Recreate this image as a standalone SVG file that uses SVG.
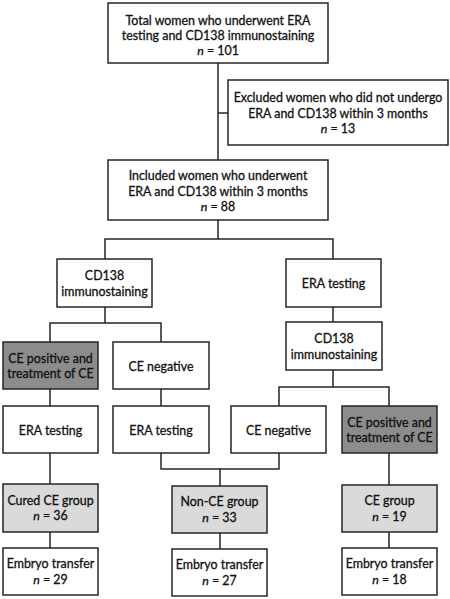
<svg xmlns="http://www.w3.org/2000/svg" width="450" height="599" viewBox="0 0 450 599">
<style>
rect{fill:#fff;stroke:#262626;stroke-width:1.5}
rect.dk{fill:#8c8c8c}
rect.lt{fill:#dadada}
text{font-family:Lato,"Open Sans","Liberation Sans",sans-serif;font-size:12.4px;fill:#111;stroke:#111;stroke-width:0.3;text-anchor:middle}
.i{font-style:italic}
#connectors path{fill:none;stroke:#262626;stroke-width:1.5}
</style>
<rect x="0" y="0" width="450" height="599" style="fill:#fff;stroke:none"/>
<g id="connectors">
<path d="M218 63V160M218 113H228"/>
<path d="M218 220V239M105 259V239H333V259"/>
<path d="M105 307V323M50 342V323H161V342"/>
<path d="M333 307V322"/>
<path d="M333 370V387M279 406V387H389V406"/>
<path d="M50 389V406M161 389V406"/>
<path d="M50 453V484"/>
<path d="M161 453V469H279V453M220 469V486"/>
<path d="M389 453V485"/>
<path d="M50 532V548M220 533V549M389 532V548"/>
</g>
<g id="n-total"><rect x="108" y="3" width="220" height="60"/>
<text x="218" y="24.5">Total women who underwent ERA</text><text x="218" y="39.5">testing and CD138 immunostaining</text><text x="218" y="54.5"><tspan class="i">n</tspan> = 101</text></g>
<g id="n-excluded"><rect x="228" y="80" width="220" height="65"/>
<text x="338" y="102">Excluded women who did not undergo</text><text x="338" y="117.5">ERA and CD138 within 3 months</text><text x="338" y="133"><tspan class="i">n</tspan> = 13</text></g>
<g id="n-included"><rect x="108" y="160" width="220" height="60"/>
<text x="218" y="180">Included women who underwent</text><text x="218" y="195.5">ERA and CD138 within 3 months</text><text x="218" y="211"><tspan class="i">n</tspan> = 88</text></g>
<g id="n-cd138-left"><rect x="57" y="259" width="95" height="48"/>
<text x="104.5" y="280">CD138</text><text x="104.5" y="295.5">immunostaining</text></g>
<g id="n-era-right"><rect x="286" y="259" width="95" height="48"/>
<text x="333.5" y="288">ERA testing</text></g>
<g id="n-cd138-right"><rect x="286" y="322" width="96" height="48"/>
<text x="334" y="343">CD138</text><text x="334" y="358.5">immunostaining</text></g>
<g id="n-cepos-left"><rect class="dk" x="3" y="342" width="95" height="47"/>
<text x="50.5" y="362.5">CE positive and</text><text x="50.5" y="378">treatment of CE</text></g>
<g id="n-ceneg-left"><rect x="113" y="342" width="96" height="47"/>
<text x="161" y="370.5">CE negative</text></g>
<g id="n-era-left"><rect x="3" y="406" width="95" height="47"/>
<text x="50.5" y="434.5">ERA testing</text></g>
<g id="n-era-mid"><rect x="113" y="406" width="96" height="47"/>
<text x="161" y="434.5">ERA testing</text></g>
<g id="n-ceneg-right"><rect x="231" y="406" width="95" height="47"/>
<text x="278.5" y="434.5">CE negative</text></g>
<g id="n-cepos-right"><rect class="dk" x="342" y="406" width="95" height="47"/>
<text x="389.5" y="426.5">CE positive and</text><text x="389.5" y="442">treatment of CE</text></g>
<g id="n-cured"><rect class="lt" x="3" y="484" width="95" height="48"/>
<text x="50.5" y="504.5">Cured CE group</text><text x="50.5" y="520"><tspan class="i">n</tspan> = 36</text></g>
<g id="n-nonce"><rect class="lt" x="172" y="486" width="95" height="47"/>
<text x="219.5" y="506">Non-CE group</text><text x="219.5" y="521.5"><tspan class="i">n</tspan> = 33</text></g>
<g id="n-ce"><rect class="lt" x="342" y="485" width="95" height="47"/>
<text x="389.5" y="505">CE group</text><text x="389.5" y="520.5"><tspan class="i">n</tspan> = 19</text></g>
<g id="n-et-left"><rect x="3" y="548" width="95" height="47"/>
<text x="50.5" y="568">Embryo transfer</text><text x="50.5" y="583.5"><tspan class="i">n</tspan> = 29</text></g>
<g id="n-et-mid"><rect x="172" y="549" width="95" height="47"/>
<text x="219.5" y="569">Embryo transfer</text><text x="219.5" y="584.5"><tspan class="i">n</tspan> = 27</text></g>
<g id="n-et-right"><rect x="342" y="548" width="95" height="47"/>
<text x="389.5" y="568">Embryo transfer</text><text x="389.5" y="583.5"><tspan class="i">n</tspan> = 18</text></g>
</svg>
